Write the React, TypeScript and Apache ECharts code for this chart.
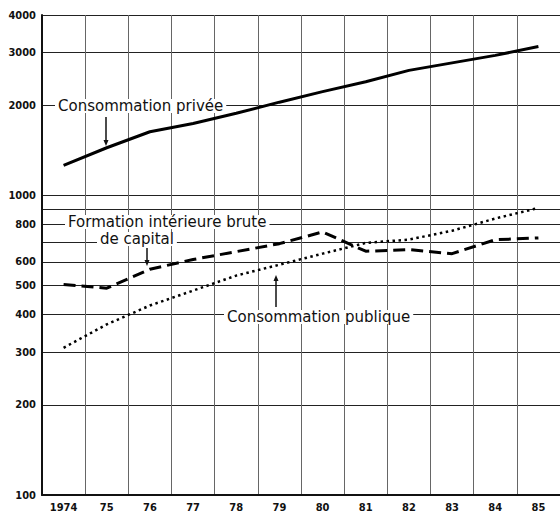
import React, { useEffect, useRef } from "react";
import * as echarts from "echarts";

const years = ["1974", "75", "76", "77", "78", "79", "80", "81", "82", "83", "84", "85"];
const consoPrivee = [1259, 1442, 1631, 1738, 1879, 2047, 2220, 2395, 2614, 2769, 2933, 3138];
const formationCapital = [504, 490, 567, 611, 649, 690, 755, 651, 659, 639, 711, 721];
const consoPublique = [310, 371, 429, 481, 540, 587, 639, 694, 712, 762, 837, 908];
const gridValues = [100, 200, 300, 400, 500, 600, 700, 800, 900, 1000, 2000, 3000, 4000];
const labelValues = [100, 200, 300, 400, 500, 600, 800, 1000, 2000, 3000, 4000];

const tickFont = "'Liberation Sans Narrow', 'DejaVu Sans Condensed', 'Roboto', sans-serif";
const annFont = "'DejaVu Sans', sans-serif";

export default function App() {
  const ref = useRef<HTMLDivElement>(null);
  useEffect(() => {
    if (!ref.current) return;
    const chart = echarts.init(ref.current, undefined, { renderer: "svg" });
    const annText = (text: string, x: number, y: number) => ({
      type: "text",
      x,
      y,
      z: 100,
      style: {
        text,
        fontFamily: annFont,
        fontSize: 15,
        lineHeight: 14,
        fill: "#111",
        verticalAlign: "middle",
        align: "left",
        backgroundColor: "#fff",
        padding: [0, 3],
      },
    });
    const arrow = (x: number, y1: number, y2: number) => {
      const dir = y2 > y1 ? 1 : -1;
      return [
        { type: "line", z: 100, shape: { x1: x, y1, x2: x, y2: y2 - dir * 4 }, style: { stroke: "#111", lineWidth: 1.5 } },
        {
          type: "polygon",
          z: 100,
          shape: { points: [[x - 2.5, y2 - dir * 6], [x + 2.5, y2 - dir * 6], [x, y2]] },
          style: { fill: "#111" },
        },
      ];
    };
    chart.setOption({
      animation: false,
      backgroundColor: "#fff",
      grid: { left: 42, top: 15, right: -6, bottom: 17, containLabel: false },
      xAxis: {
        type: "category",
        data: years,
        boundaryGap: true,
        axisLine: { show: true, lineStyle: { color: "#111", width: 2 } },
        axisTick: { show: false },
        axisLabel: {
          interval: 0,
          margin: 7,
          fontFamily: tickFont,
          fontWeight: "bold",
          fontSize: 11,
          color: "#111",
        },
        splitLine: { show: true, interval: 0, lineStyle: { color: "#666", width: 1 } },
      },
      yAxis: {
        type: "log",
        logBase: 10,
        min: 100,
        max: 4000,
        axisLine: { show: true, lineStyle: { color: "#111", width: 2 } },
        axisTick: { show: false, customValues: gridValues },
        axisLabel: {
          customValues: labelValues,
          margin: 6,
          fontFamily: tickFont,
          fontWeight: "bold",
          fontSize: 11,
          color: "#111",
          formatter: (v: number) => String(Math.round(v)),
        },
        splitLine: { show: true, lineStyle: { color: "#222", width: 1.2 } },
      },
      series: [
        {
          name: "Consommation privée",
          type: "line",
          data: consoPrivee,
          symbol: "none",
          smooth: false,
          lineStyle: { color: "#000", width: 3 },
          z: 10,
        },
        {
          name: "Formation intérieure brute de capital",
          type: "line",
          data: formationCapital,
          symbol: "none",
          lineStyle: { color: "#000", width: 3, type: [12, 6] },
          z: 10,
        },
        {
          name: "Consommation publique",
          type: "line",
          data: consoPublique,
          symbol: "none",
          lineStyle: { color: "#000", width: 2.5, type: [2.5, 3.5] },
          z: 10,
        },
      ],
      graphic: [
        annText("Consommation privée", 55, 106),
        annText("Formation intérieure brute", 65, 222),
        annText("de capital", 97, 239),
        annText("Consommation publique", 224, 317),
        ...arrow(106, 117, 146),
        ...arrow(147, 248, 266),
        ...arrow(276, 307, 275),
      ],
    });
    return () => chart.dispose();
  }, []);
  return <div ref={ref} style={{ width: 560, height: 513, position: "absolute", left: 0, top: 0 }} />;
}
